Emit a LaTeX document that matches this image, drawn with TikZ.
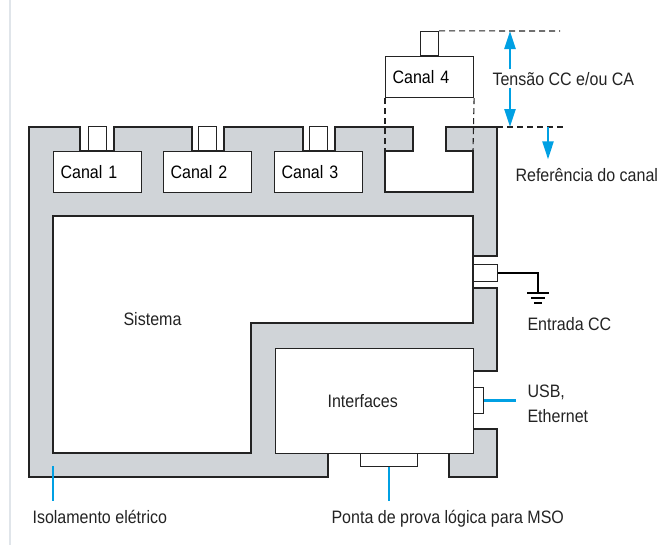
\documentclass[tikz,border=0pt]{standalone}
\usepackage{fontspec}
\setmainfont[FakeStretch=0.89]{Liberation Sans}
\usetikzlibrary{positioning,arrows.meta}
\definecolor{insul}{RGB}{208,212,216}
\definecolor{wire}{RGB}{0,160,227}
\definecolor{edge}{RGB}{35,35,35}
\definecolor{faint}{RGB}{224,229,234}

\begin{document}
\begin{tikzpicture}[
  x=1pt,y=-1pt,line width=1.1pt,
  font=\fontsize{18}{25}\selectfont,
  whitebox/.style={draw=edge,fill=white,inner sep=0pt,anchor=north west},
  chan/.style={whitebox,minimum height=41pt,text width=74pt,inner xsep=7pt,align=left},
  plug/.style={draw=edge,fill=white,inner sep=0pt,minimum width=18pt,minimum height=24pt},
  guide/.style={draw=edge,dash pattern=on 6pt off 4pt},
  lbl/.style={anchor=base west,inner sep=2pt,text=edge},
  lead/.style={draw=wire,line width=2.4pt},
  arr/.style={lead,-{Triangle[length=18pt,width=11pt]}}
]
\useasboundingbox (0,0) rectangle (668,554);
\draw[faint,line width=1.5pt] (10,0) -- (10,545);

% insulation
\draw[fill=insul,draw=edge] (29,127) -- (80,127) -- (80,151) -- (114,151) -- (114,127)
  -- (192,127) -- (192,151) -- (224,151) -- (224,127) -- (303,127) -- (303,151)
  -- (335,151) -- (335,127) -- (413,127) -- (413,151) -- (385,151) -- (385,192)
  -- (473,192) -- (473,151) -- (446,151) -- (446,127) -- (497,127) -- (497,256)
  -- (473,256) -- (473,288) -- (497,288) -- (497,371) -- (473,371) -- (473,453)
  -- (328,453) -- (328,477) -- (29,477) -- cycle;
\draw[fill=insul,draw=edge] (473,429) -- (497,429) -- (497,477) -- (449,477)
  -- (449,453) -- (473,453) -- cycle;

\draw[fill=white,draw=edge] (53,216) -- (473,216) -- (473,323) -- (251,323)
  -- (251,453) -- (53,453) -- cycle;
\node[lbl] (sys) at (121,325) {Sistema};
\node[whitebox,minimum width=198pt,minimum height=105pt] (ifc) at (275,348) {};
\node[lbl] (ifct) at (325,407) {Interfaces};

\node[chan] (c1) at (53,151) {Canal 1};
\node[chan] (c2) at (163,151) {Canal 2};
\node[chan] (c3) at (274,151) {Canal 3};
\node[chan] (c4) at (385,56) {Canal 4};
\node[plug,above right=0pt and 35pt of c1.north west] (p1) {};
\node[plug,above right=0pt and 35pt of c2.north west] (p2) {};
\node[plug,above right=0pt and 35pt of c3.north west] (p3) {};
\node[plug,above right=0pt and 35pt of c4.north west] (p4) {};

\node[whitebox,minimum width=24pt,minimum height=17pt] (dc) at (473,264) {};
\node[whitebox,minimum width=10pt,minimum height=26pt] (usb) at (473,387) {};
\node[whitebox,minimum width=57pt,minimum height=13pt] (mso) at (360,453) {};

\coordinate (sl) at (385,151);
\coordinate (sr) at (473,151);
\coordinate (gt) at (560,31);
\coordinate (ct) at (497,127);
\coordinate (gb) at (563,127);
\coordinate (vtop) at (510,31);
\coordinate (vbot) at (510,127);
\coordinate (rtop) at (548,127);
\coordinate (isopt) at (53,466);
\coordinate (gnd) at (538,293);

\draw[guide] (c4.south west) -- (sl);
\draw[guide] (c4.south east) -- (sr);
\draw[guide] (p4.north east) -- (gt);
\draw[guide] (ct) -- (gb);

% labels
\node[lbl] (ten) at (490,85) {Tensão CC e/ou CA};
\node[lbl] (ref) at (513,181) {Referência do canal};
\node[lbl] (ent) at (525,330) {Entrada CC};
\node[lbl,anchor=north west,align=left] (usbt) at (525,382) {USB,\\Ethernet};
\node[lbl] (iso) at (30,523) {Isolamento elétrico};
\node[lbl] (pp) at (329,523) {Ponta de prova lógica para MSO};

\draw[arr] (ten.north -| vtop) -- (vtop);
\draw[arr] (ten.south -| vtop) -- (vbot);
\draw[arr,shorten >=6pt] (rtop) -- (rtop |- ref.north);
\draw[lead,shorten >=9pt] (usb.east) -- (usb.east -| usbt.west);
\draw[lead,shorten >=6pt] (isopt) -- (isopt |- iso.north);
\draw[lead,shorten >=6pt] (mso.south) -- (mso.south |- pp.north);

% ground
\draw[line width=2pt] (dc.east) -| (gnd);
\draw[line width=2.2pt] ([xshift=-11pt]gnd) -- ([xshift=11pt]gnd)
  ([xshift=-7pt,yshift=-5pt]gnd) -- ([xshift=7pt,yshift=-5pt]gnd)
  ([xshift=-4pt,yshift=-10pt]gnd) -- ([xshift=4pt,yshift=-10pt]gnd);
\end{tikzpicture}
\end{document}
